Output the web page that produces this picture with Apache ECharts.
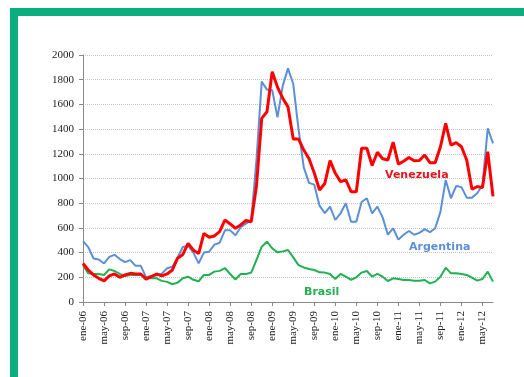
<!DOCTYPE html>
<html>
<head>
<meta charset="utf-8">
<script src="https://cdn.jsdelivr.net/npm/echarts@6/dist/echarts.min.js"></script>
<style>
  html, body { margin: 0; padding: 0; background: #ffffff; }
  #frame { position: absolute; left: 0; top: 0; width: 524px; height: 377px; }
  #barTop { position: absolute; left: 10px; top: 8px; width: 514px; height: 8px; background: #0aae7f; }
  #barLeft { position: absolute; left: 10px; top: 8px; width: 8px; height: 369px; background: #0aae7f; }
  #chart { position: absolute; left: 0; top: 0; width: 524px; height: 377px; }
</style>
</head>
<body>
<div id="frame">
  <div id="barTop"></div>
  <div id="barLeft"></div>
  <div id="chart"></div>
</div>
<script>
// Monthly series, ene-06 through jul-12
const monthNames = ['ene', 'feb', 'mar', 'abr', 'may', 'jun', 'jul', 'ago', 'sep', 'oct', 'nov', 'dic'];
const years = ['06', '07', '08', '09', '10', '11', '12'];
const monthCount = 79;

const venezuela = [312, 259, 219, 192, 171, 211, 227, 200, 219, 232, 227, 227,
  184, 205, 227, 211, 227, 259, 355, 385, 475, 420, 392, 556,
  524, 535, 570, 664, 632, 597, 624, 660, 650, 940, 1487, 1540,
  1865, 1740, 1650, 1580, 1320, 1320, 1230, 1160, 1045, 907, 960, 1145,
  1042, 975, 988, 893, 893, 1245, 1245, 1105, 1213, 1160, 1150, 1295,
  1116, 1140, 1170, 1143, 1145, 1190, 1128, 1128, 1257, 1446, 1270, 1290,
  1257, 1150, 913, 935, 926, 1217, 855];

const argentina = [493, 445, 352, 344, 312, 365, 382, 348, 323, 339, 293, 293,
  200, 210, 215, 230, 273, 285, 360, 445, 455, 400, 313, 400,
  407, 465, 480, 580, 580, 540, 605, 635, 660, 1150, 1784, 1720,
  1715, 1495, 1750, 1892, 1765, 1400, 1090, 965, 950, 780, 720, 772,
  664, 718, 800, 650, 650, 810, 840, 718, 772, 685, 545, 597,
  505, 545, 575, 545, 560, 590, 565, 597, 730, 988, 840, 940,
  930, 845, 845, 880, 948, 1407, 1285];

const brasil = [299, 232, 227, 227, 219, 264, 251, 227, 211, 219, 219, 219,
  200, 192, 192, 171, 163, 144, 157, 192, 205, 180, 168, 219,
  219, 246, 252, 275, 227, 182, 227, 227, 238, 340, 448, 489,
  435, 402, 410, 421, 361, 299, 280, 267, 259, 240, 238, 227,
  186, 227, 205, 180, 200, 238, 251, 205, 227, 205, 170, 192,
  186, 178, 178, 173, 173, 178, 151, 165, 205, 278, 232, 232,
  227, 219, 197, 173, 186, 246, 165];

const seriesNames = ['Venezuela', 'Argentina', 'Brasil'];

const categories = [];
for (let i = 0; i < monthCount; i++) {
  categories.push(monthNames[i % 12] + '-' + years[Math.floor(i / 12)]);
}

const chart = echarts.init(document.getElementById('chart'), null, { renderer: 'canvas' });

const serifFont = '"Liberation Serif", "Times New Roman", serif';
const sansBold = '"DejaVu Sans", Verdana, sans-serif';

chart.setOption({
  animation: false,
  backgroundColor: 'transparent',
  grid: { left: 83, right: 31, top: 55, bottom: 75, containLabel: false },
  xAxis: {
    type: 'category',
    data: categories,
    boundaryGap: false,
    axisLine: { lineStyle: { color: '#8a8a8a', width: 1 } },
    axisTick: { show: true, interval: 3, length: 4, lineStyle: { color: '#8a8a8a' } },
    axisLabel: {
      interval: 3,
      rotate: 90,
      margin: 9,
      fontFamily: serifFont,
      fontSize: 11,
      color: '#222'
    },
    splitLine: { show: false }
  },
  yAxis: {
    type: 'value',
    min: 0,
    max: 2000,
    interval: 200,
    axisLine: { show: true, lineStyle: { color: '#8a8a8a', width: 1 } },
    axisTick: { show: true, length: 4, lineStyle: { color: '#8a8a8a' } },
    axisLabel: {
      margin: 9,
      fontFamily: serifFont,
      fontSize: 11,
      color: '#222',
      formatter: (v) => String(v)
    },
    splitLine: { show: true, lineStyle: { color: '#c4c4c4', type: 'dotted', width: 1 } }
  },
  series: [
    {
      name: seriesNames[1],
      type: 'line',
      data: argentina,
      symbol: 'none',
      lineStyle: { color: '#5b8fd6', width: 2 },
      z: 2
    },
    {
      name: seriesNames[2],
      type: 'line',
      data: brasil,
      symbol: 'none',
      lineStyle: { color: '#1fb152', width: 2 },
      z: 3
    },
    {
      name: seriesNames[0],
      type: 'line',
      data: venezuela,
      symbol: 'none',
      lineStyle: { color: '#ff0000', width: 3 },
      z: 4
    }
  ],
  graphic: [
    {
      type: 'text', left: 385, top: 170, z: 10,
      style: { text: seriesNames[0], fill: '#e8141c', font: 'bold 11px ' + sansBold }
    },
    {
      type: 'text', left: 409, top: 242, z: 10,
      style: { text: seriesNames[1], fill: '#5b8fd6', font: 'bold 11px ' + sansBold }
    },
    {
      type: 'text', left: 304, top: 287, z: 10,
      style: { text: seriesNames[2], fill: '#1fb152', font: 'bold 11px ' + sansBold }
    }
  ]
});
</script>
</body>
</html>
